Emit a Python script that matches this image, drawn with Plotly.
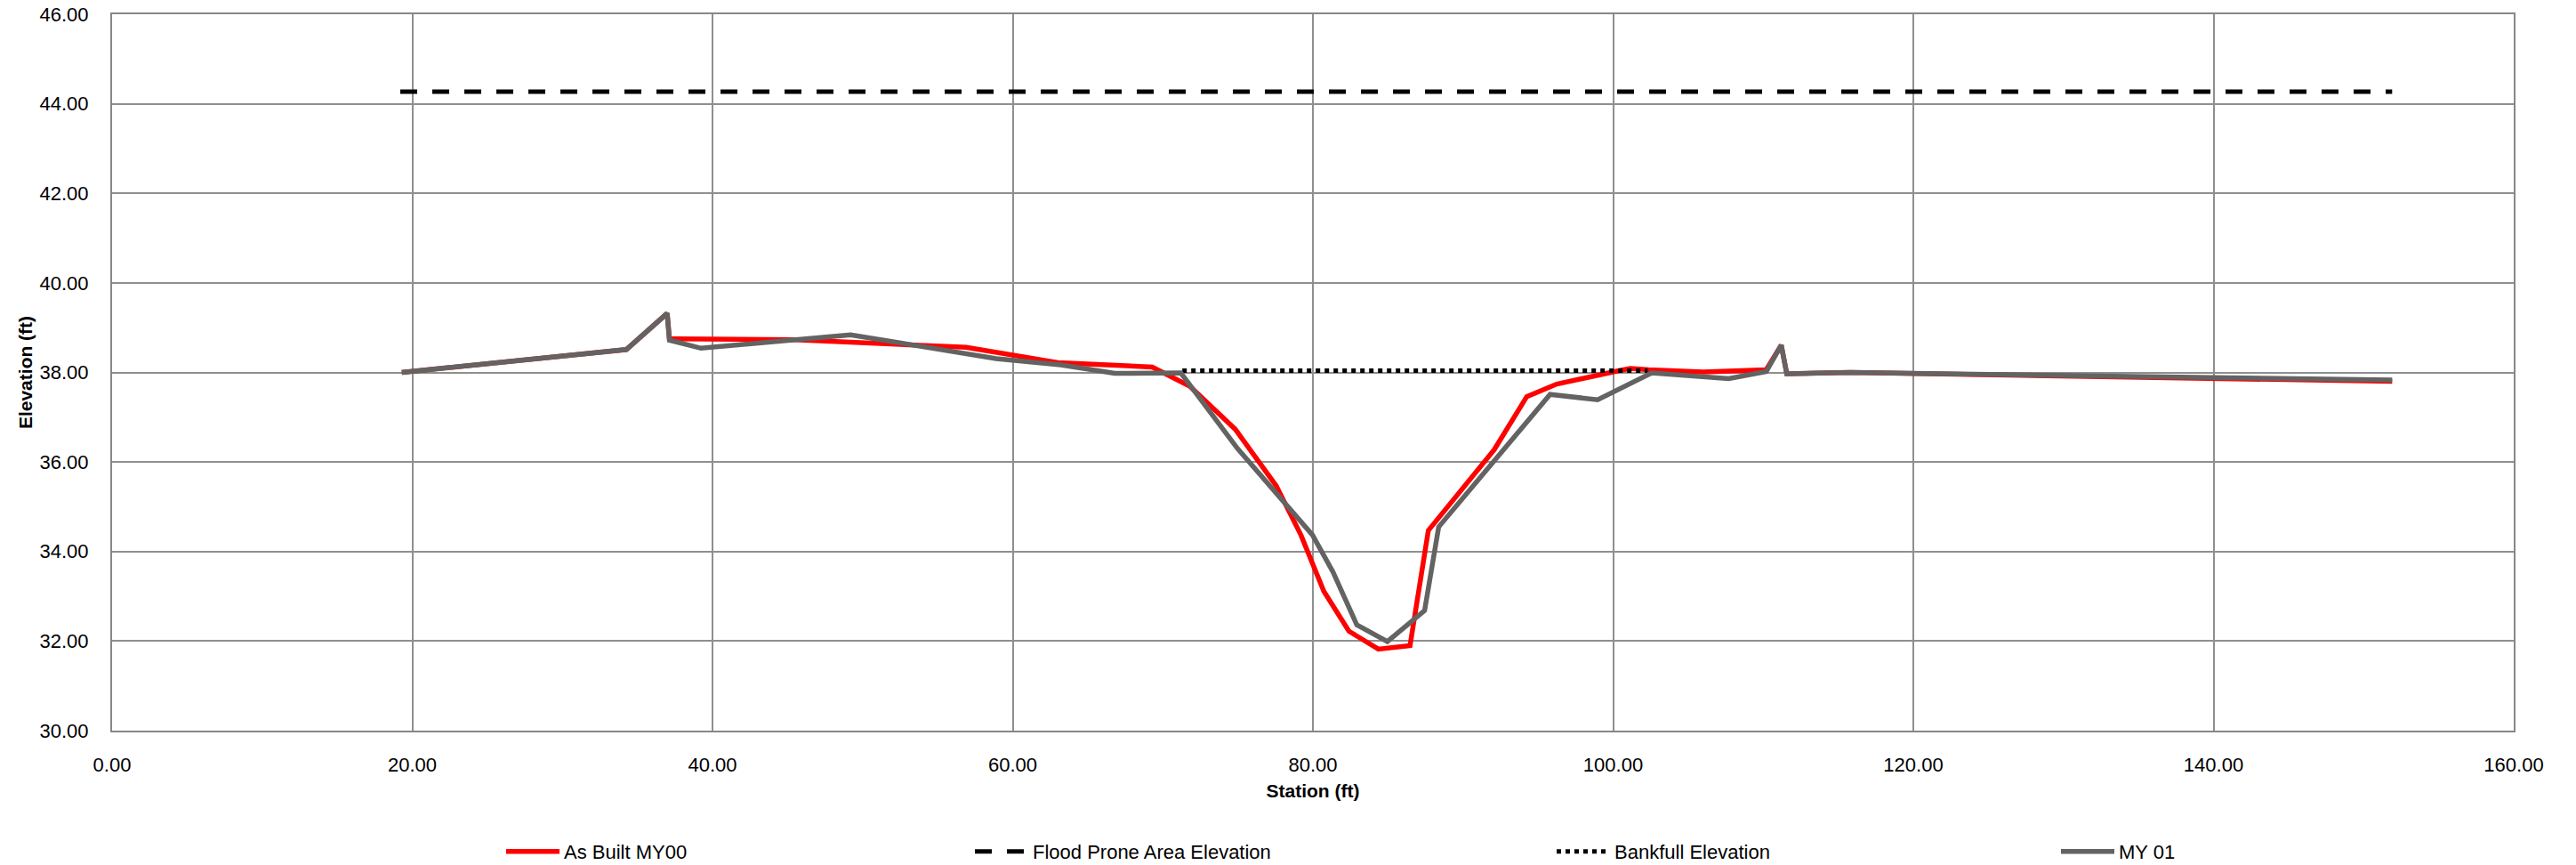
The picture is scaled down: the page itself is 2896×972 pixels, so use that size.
import plotly.graph_objects as go

# ---- data ----
asbuilt_x = [19.3, 25.65, 34.26, 36.98, 37.13, 45.5, 56.9, 63.0, 69.3, 71.8, 74.83, 77.55, 79.2, 80.73,
             82.4, 84.36, 86.47, 87.69, 92.07, 94.25, 96.25, 100.4, 101.15, 102.36, 106.0, 110.2,
             111.2, 111.57, 115.8, 151.9]
asbuilt_y = [38.0, 38.21, 38.51, 39.32, 38.75, 38.73, 38.56, 38.22, 38.12, 37.69, 36.73, 35.47, 34.37, 33.11,
             32.22, 31.82, 31.9, 34.47, 36.27, 37.46, 37.74, 38.04, 38.09, 38.06, 38.01, 38.06,
             38.61, 37.97, 38.0, 37.8]

my01_x = [19.3, 25.65, 34.26, 36.98, 37.13, 39.24, 49.2, 58.9, 63.2, 66.8, 71.2, 74.98, 79.97, 81.33,
          82.93, 84.96, 87.44, 88.38, 95.8, 98.97, 102.57, 107.7, 110.2, 111.2, 111.57, 115.8, 151.9]
my01_y = [38.0, 38.21, 38.51, 39.32, 38.72, 38.54, 38.84, 38.31, 38.17, 37.98, 37.99, 36.30, 34.37, 33.55,
          32.36, 31.99, 32.68, 34.55, 37.51, 37.39, 37.99, 37.86, 38.02, 38.61, 37.97, 38.0, 37.83]

flood_x = [19.2, 151.9]
flood_y = [44.27, 44.27]

bankfull_x = [71.3, 102.3]
bankfull_y = [38.04, 38.04]

x_ticks = [0, 20, 40, 60, 80, 100, 120, 140, 160]
y_ticks = [30, 32, 34, 36, 38, 40, 42, 44, 46]

# ---- figure ----
W, H = 2896, 972
ML, MR, MT, MB = 126, 70, 16, 151
PW = W - ML - MR
PH = H - MT - MB

def px_to_paper_x(px):
    return (px - ML) / PW

FONT = "Liberation Sans, Arial, sans-serif"

fig = go.Figure()
fig.add_trace(go.Scatter(x=asbuilt_x, y=asbuilt_y, mode="lines", name="As Built MY00",
                         line=dict(color="#ff0000", width=5.5), legend="legend"))
fig.add_trace(go.Scatter(x=flood_x, y=flood_y, mode="lines", name="Flood Prone Area Elevation",
                         line=dict(color="#000000", width=5, dash="19px,17px"), legend="legend2"))
fig.add_trace(go.Scatter(x=bankfull_x, y=bankfull_y, mode="lines", name="Bankfull Elevation",
                         line=dict(color="#000000", width=5, dash="dot"), legend="legend3"))
fig.add_trace(go.Scatter(x=my01_x, y=my01_y, mode="lines", name="MY 01",
                         line=dict(color="#636363", width=5.5), legend="legend4"))

leg_y = (H - MB - 957) / PH
common_leg = dict(orientation="h", y=leg_y, yanchor="middle", xanchor="left",
                  font=dict(family=FONT, size=22, color="#000000"),
                  bgcolor="rgba(0,0,0,0)", itemwidth=60, borderwidth=0)

fig.update_layout(
    width=W, height=H,
    margin=dict(l=ML, r=MR, t=MT, b=MB, autoexpand=False),
    paper_bgcolor="white", plot_bgcolor="white",
    font=dict(family=FONT, size=22, color="#000000"),
    showlegend=True,
    legend=dict(x=px_to_paper_x(564), **common_leg),
    legend2=dict(x=px_to_paper_x(1091), **common_leg),
    legend3=dict(x=px_to_paper_x(1745), **common_leg),
    legend4=dict(x=px_to_paper_x(2312), **common_leg),
    xaxis=dict(range=[0, 160], tickvals=x_ticks, tickformat=".2f",
               showgrid=True, gridcolor="#8f8f8f", gridwidth=1.5,
               showline=True, linecolor="#878787", linewidth=2, mirror=True,
               zeroline=False, ticks="", ticklabelstandoff=18,
               tickfont=dict(family=FONT, size=22, color="#000000"),
               title=dict(text="<b>Station (ft)</b>", standoff=10,
                          font=dict(family=FONT, size=21, color="#000000")),
               automargin=False),
    yaxis=dict(range=[30, 46], tickvals=y_ticks, tickformat=".2f",
               showgrid=True, gridcolor="#8f8f8f", gridwidth=1.5,
               showline=True, linecolor="#878787", linewidth=2, mirror=True,
               zeroline=False, ticks="", ticklabelstandoff=20,
               tickfont=dict(family=FONT, size=22, color="#000000"),
               title=dict(text="<b>Elevation (ft)</b>", standoff=2,
                          font=dict(family=FONT, size=21, color="#000000")),
               automargin=False),
)

fig.write_html("out.html",
               config={"displayModeBar": False},
               post_script="document.body.style.margin='0px';document.body.style.overflow='hidden';")
